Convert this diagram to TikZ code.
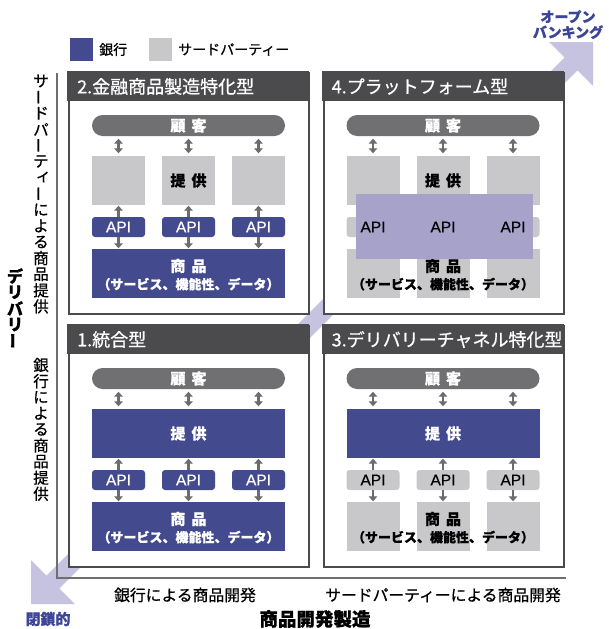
\documentclass[tikz,border=0pt]{standalone}
\usepackage{fontspec}
\usepackage{graphicx}
\setmainfont{Noto Sans CJK JP}[RawFeature={embolden=0.7}]
\newfontfamily\apifont{Liberation Sans}[RawFeature={embolden=0.5}]
\usetikzlibrary{arrows.meta}

\definecolor{bankblue}{HTML}{434A8E}
\definecolor{tpgrey}{HTML}{C8C8CA}
\definecolor{bardark}{HTML}{4B4B4D}
\definecolor{pillgrey}{HTML}{707073}
\definecolor{arrgrey}{HTML}{6C6C6E}
\definecolor{ovl}{HTML}{A7A2C9}
\definecolor{bigarrow}{HTML}{C5C3DF}
\definecolor{labblue}{HTML}{3C4596}
\definecolor{axisgrey}{HTML}{6E6E6E}

\newcommand\fs[1]{\fontsize{#1}{#1}\selectfont}
\newcommand\vbar{\rotatebox[origin=c]{90}{ー}}
\newcommand\vsm[1]{\makebox[1em][c]{\hspace{0.3em}\raisebox{0.15em}{#1}}}

\tikzset{
 qframe/.style={draw=bardark, line width=2pt, fill=white, minimum width=240pt, minimum height=241pt, anchor=north west, inner sep=0pt},
 qbar/.style={fill=bardark, minimum width=242pt, minimum height=30pt, anchor=north west, inner sep=0pt},
 ttl/.style={anchor=west, text=white, font=\fs{18}, inner sep=0pt},
 pill/.style={fill=pillgrey, rounded corners=10.5pt, minimum width=193pt, minimum height=21pt, inner sep=0pt, text=white, font=\fs{15}\bfseries},
 gbox/.style={fill=tpgrey, minimum width=53pt, minimum height=49pt, inner sep=0pt},
 wide/.style={minimum width=193pt, minimum height=49pt, inner sep=0pt, align=center},
 bbox/.style={fill=bankblue, text=white},
 offertxt/.style={font=\fs{15}\bfseries},
 prodtxt/.style={align=center, inner sep=0pt, font=\fontsize{15}{17.5}\selectfont\bfseries},
 api/.style={rounded corners=3pt, minimum width=53pt, minimum height=20pt, inner sep=0pt, font=\apifont\fs{15.5}},
 apib/.style={api, fill=bankblue, text=white},
 apig/.style={api, fill=tpgrey, text=black},
 arr/.style={draw=arrgrey, line width=2.6pt, -{Triangle[width=8.5pt,length=5pt]}, shorten >=0.5pt},
 darr/.style={draw=arrgrey, line width=2.6pt, {Triangle[width=8.5pt,length=5pt]}-{Triangle[width=8.5pt,length=5pt]}, shorten >=2.5pt, shorten <=2.5pt},
 vlab/.style={inner sep=0pt, font=\fs{15.5}},
 plain/.style={inner sep=0pt},
}

\begin{document}
\begin{tikzpicture}[x=1pt,y=-1pt]
\useasboundingbox (0,0) rectangle (609,629);
\fill[white] (0,0) rectangle (609,629);

% big diagonal arrow
\fill[bigarrow] (593,42) -- (593,86) -- (577.4,70.4) -- (59.4,588.4) -- (75,604) -- (31,604) -- (31,560) -- (46.6,575.6) -- (564.6,57.6) -- (549,42) -- cycle;

% axes
\coordinate (axtop) at (57,73);
\coordinate (axcorner) at (57,578);
\coordinate (axright) at (566,578);
\draw[axisgrey, line width=1.4pt] (axtop) -- (axcorner) -- (axright);

% legend
\node[fill=bankblue, minimum size=23pt, inner sep=0pt] (legb) at (81.5,49.5) {};
\node[plain, anchor=west, font=\fs{14}] (legbt) at (99,49.5) {銀行};
\node[fill=tpgrey, minimum size=23pt, inner sep=0pt] (legg) at (160.5,49.5) {};
\node[plain, anchor=west, font=\fs{14}] (leggt) at (178,49.5) {サードパーティー};

% ---------- Q2 ----------
\begin{scope}[shift={(68,72)}]
 \node[qframe] (q2frame) at (0,0) {};
 \node[qbar] (q2bar) at (-1,-1) {};
 \node[ttl] (q2title) at (9,14.5) {2.金融商品製造特化型};
 \node[pill] (q2pill) at (120.5,53.5) {顧\hspace{0.4em}客};
 \foreach \k/\x in {1/50.5,2/120.5,3/190.5} {
  \node[gbox] (q2top\k) at (\x,108.5) {};
  \node[apib] (q2api\k) at (\x,155) {API};
 }
 \node[offertxt] (q2offer) at (q2top2) {提\hspace{0.4em}供};
 \node[wide, bbox] (q2prod) at (120.5,201.5) {};
 \node[prodtxt, text=white] (q2prodt) at (120.5,202.7) {商\hspace{0.4em}品\\{\fs{13}（サービス、機能性、データ）}};
 \foreach \k in {1,2,3} {
  \draw[darr] (q2pill.south -| q2top\k) -- (q2top\k.north);
  \draw[arr] (q2api\k.north) -- (q2top\k.south);
  \draw[arr] (q2api\k.south) -- (q2api\k.south |- q2prod.north);
 }
\end{scope}

% ---------- Q4 ----------
\begin{scope}[shift={(322.5,72)}]
 \node[qframe] (q4frame) at (0,0) {};
 \node[qbar] (q4bar) at (-1,-1) {};
 \node[ttl] (q4title) at (9,14.5) {4.プラットフォーム型};
 \node[pill] (q4pill) at (120.5,53.5) {顧\hspace{0.4em}客};
 \foreach \k/\x in {1/50.5,2/120.5,3/190.5} {
  \node[gbox] (q4top\k) at (\x,108.5) {};
  \node[api, fill=tpgrey] (q4api\k) at (\x,155) {};
  \node[gbox] (q4bot\k) at (\x,201.5) {};
 }
 \foreach \k in {1,2,3} {
  \draw[darr] (q4pill.south -| q4top\k) -- (q4top\k.north);
  \draw[arr] (q4api\k.north) -- (q4top\k.south);
  \draw[arr] (q4api\k.south) -- (q4bot\k.north);
 }
 \node[offertxt] (q4offer) at (q4top2) {提\hspace{0.4em}供};
 \node[prodtxt] (q4prodt) at (120.5,202.7) {商\hspace{0.4em}品\\{\fs{13}（サービス、機能性、データ）}};
 \fill[ovl] (33.5,122) rectangle (210.5,187);
 \foreach \k in {1,2,3} {
  \node[plain, font=\apifont\fs{15.5}] (q4apit\k) at (q4api\k) {API};
 }
\end{scope}

% ---------- Q1 ----------
\begin{scope}[shift={(68,325)}]
 \node[qframe] (q1frame) at (0,0) {};
 \node[qbar] (q1bar) at (-1,-1) {};
 \node[ttl] (q1title) at (9,14.5) {1.統合型};
 \node[pill] (q1pill) at (120.5,53.5) {顧\hspace{0.4em}客};
 \node[wide, bbox, offertxt] (q1offer) at (120.5,108.5) {提\hspace{0.4em}供};
 \foreach \k/\x in {1/50.5,2/120.5,3/190.5} {
  \node[apib] (q1api\k) at (\x,155) {API};
 }
 \node[wide, bbox] (q1prod) at (120.5,201.5) {};
 \node[prodtxt, text=white] (q1prodt) at (120.5,202.7) {商\hspace{0.4em}品\\{\fs{13}（サービス、機能性、データ）}};
 \foreach \k in {1,2,3} {
  \draw[darr] (q1pill.south -| q1api\k) -- (q1api\k |- q1offer.north);
  \draw[arr] (q1api\k.north) -- (q1api\k.north |- q1offer.south);
  \draw[arr] (q1api\k.south) -- (q1api\k.south |- q1prod.north);
 }
\end{scope}

% ---------- Q3 ----------
\begin{scope}[shift={(322.5,325)}]
 \node[qframe] (q3frame) at (0,0) {};
 \node[qbar] (q3bar) at (-1,-1) {};
 \node[ttl] (q3title) at (9,14.5) {3.デリバリーチャネル特化型};
 \node[pill] (q3pill) at (120.5,53.5) {顧\hspace{0.4em}客};
 \node[wide, bbox, offertxt] (q3offer) at (120.5,108.5) {提\hspace{0.4em}供};
 \foreach \k/\x in {1/50.5,2/120.5,3/190.5} {
  \node[apig] (q3api\k) at (\x,155) {API};
  \node[gbox] (q3bot\k) at (\x,201.5) {};
 }
 \node[prodtxt] (q3prodt) at (120.5,202.7) {商\hspace{0.4em}品\\{\fs{13}（サービス、機能性、データ）}};
 \foreach \k in {1,2,3} {
  \draw[darr] (q3pill.south -| q3api\k) -- (q3api\k |- q3offer.north);
  \draw[arr] (q3api\k.north) -- (q3api\k.north |- q3offer.south);
  \draw[arr] (q3api\k.south) -- (q3bot\k.north);
 }
\end{scope}

% ---------- vertical axis labels ----------
\foreach \c [count=\i from 0] in {サ,\vbar,ド,パ,\vbar,テ,\vsm{ィ},\vbar,に,よ,る,商,品,提,供}
  \node[vlab] (tpv\i) at (41,81+\i*16.1) {\c};
\foreach \c [count=\i from 0] in {銀,行,に,よ,る,商,品,提,供}
  \node[vlab] (bkv\i) at (41,365+\i*16.1) {\c};
\foreach \c [count=\i from 0] in {デ,リ,バ,リ,\vbar}
  \node[vlab, font=\fs{16}\bfseries] (dlv\i) at (15,276+\i*16.2) {\c};

% ---------- bottom labels ----------
\node[plain, font=\fs{15.8}] (bkdev) at (185,595) {銀行による商品開発};
\node[plain, font=\fs{15.8}] (tpdev) at (443,595) {サードパーティーによる商品開発};
\node[plain, font=\fs{18.5}\bfseries] (xaxis) at (315,619) {商品開発製造};
\node[plain, font=\fs{15}\bfseries, text=labblue] (closed) at (48,619) {閉鎖的};
\node[plain, align=center, font=\fontsize{14}{15.5}\selectfont\bfseries, text=labblue] (openb) at (568,24.5) {オープン\\バンキング};
\end{tikzpicture}
\end{document}
